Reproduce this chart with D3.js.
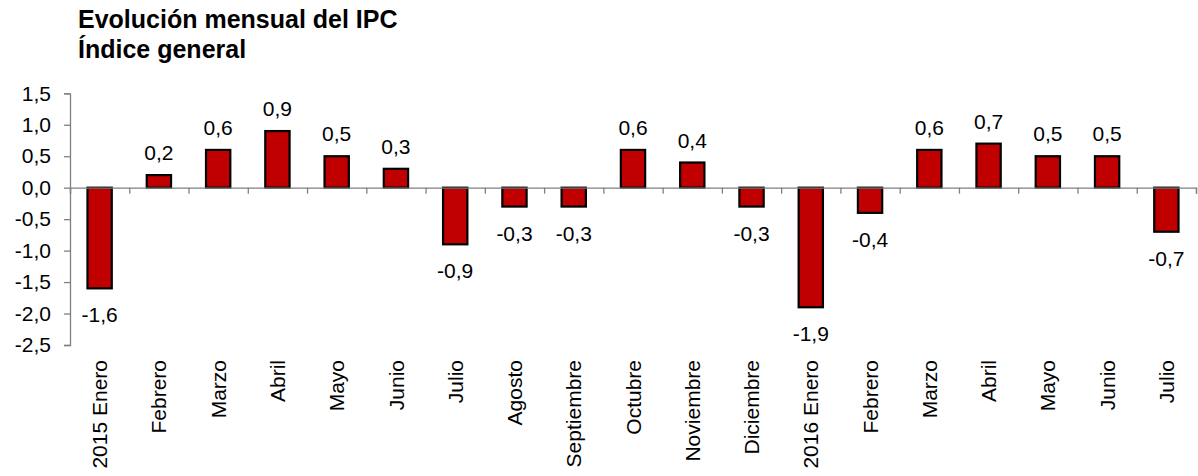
<!DOCTYPE html>
<html>
<head>
<meta charset="utf-8">
<script src="https://cdn.jsdelivr.net/npm/d3@7"></script>
<style>
  body { margin: 0; background: #fff; }
  text { font-family: "Liberation Sans", Arial, sans-serif; fill: #000; }
</style>
</head>
<body>
<svg id="chart" width="1198" height="476"></svg>
<script>
// data
const months = ["2015 Enero", "Febrero", "Marzo", "Abril", "Mayo", "Junio", "Julio",
                "Agosto", "Septiembre", "Octubre", "Noviembre", "Diciembre",
                "2016 Enero", "Febrero", "Marzo", "Abril", "Mayo", "Junio", "Julio"];
const ipc = [-1.6, 0.2, 0.6, 0.9, 0.5, 0.3, -0.9, -0.3, -0.3, 0.6, 0.4, -0.3,
             -1.9, -0.4, 0.6, 0.7, 0.5, 0.5, -0.7];
const yTicks = [1.5, 1.0, 0.5, 0.0, -0.5, -1.0, -1.5, -2.0, -2.5];
const titleLines = ["Evolución mensual del IPC", "Índice general"];

const svg = d3.select("#chart");
const fmt = d => d.toFixed(1).replace(".", ",");

const left = 70, right = 1196;

const y = d3.scaleLinear()
            .domain([-2.5, 1.5])
            .range([345, 93.3]);

// band scale uses index keys because month names repeat
const x = d3.scaleBand()
            .domain(d3.range(months.length))
            .range([left, right])
            .padding(0);

const edges = d3.scaleLinear()
                .domain([0, months.length])
                .range([left, right]);

const barW = x.bandwidth() * 0.41;

// title
svg.append("g")
    .selectAll("text")
    .data(titleLines)
    .join("text")
    .attr("x", 78)
    .attr("y", (d, i) => 28 + i * 30)
    .attr("font-size", 25)
    .attr("font-weight", "bold")
    .text(d => d);

// y axis
const yAxis = svg.append("g")
    .attr("transform", `translate(${left},0)`)
    .call(d3.axisLeft(y)
        .tickValues(yTicks)
        .tickFormat(fmt)
        .tickSizeOuter(0)
        .tickSize(6)
        .tickPadding(13));

yAxis.selectAll("text")
    .attr("font-size", 21)
    .attr("font-family", "Liberation Sans, Arial, sans-serif");

// bars
svg.append("g")
    .selectAll("rect")
    .data(ipc)
    .join("rect")
    .attr("x", (d, i) => x(i) + x.bandwidth() / 2 - barW / 2)
    .attr("y", d => y(Math.max(0, d)))
    .attr("width", barW)
    .attr("height", d => Math.abs(y(d) - y(0)))
    .attr("fill", "#C00000")
    .attr("stroke", "#000")
    .attr("stroke-width", 2.2);

// x axis on zero line, ticks at category edges
const xAxis = svg.append("g")
    .attr("transform", `translate(0,${y(0)})`)
    .call(d3.axisBottom(edges)
        .tickValues(d3.range(months.length + 1))
        .tickFormat("")
        .tickSizeOuter(0)
        .tickSize(6));

svg.selectAll(".domain, .tick line")
    .attr("stroke", "#808080")
    .attr("stroke-width", 1.3);

// value labels
svg.append("g")
    .selectAll("text")
    .data(ipc)
    .join("text")
    .attr("x", (d, i) => x(i) + x.bandwidth() / 2)
    .attr("y", d => d >= 0 ? y(d) - 15 : y(d) + 34)
    .attr("text-anchor", "middle")
    .attr("font-size", 21)
    .text(fmt);

// category labels
svg.append("g")
    .selectAll("text")
    .data(months)
    .join("text")
    .attr("transform", (d, i) => `translate(${x(i) + x.bandwidth() / 2},360) rotate(-90)`)
    .attr("dy", "0.36em")
    .attr("text-anchor", "end")
    .attr("font-size", 21)
    .text(d => d);
</script>
</body>
</html>
